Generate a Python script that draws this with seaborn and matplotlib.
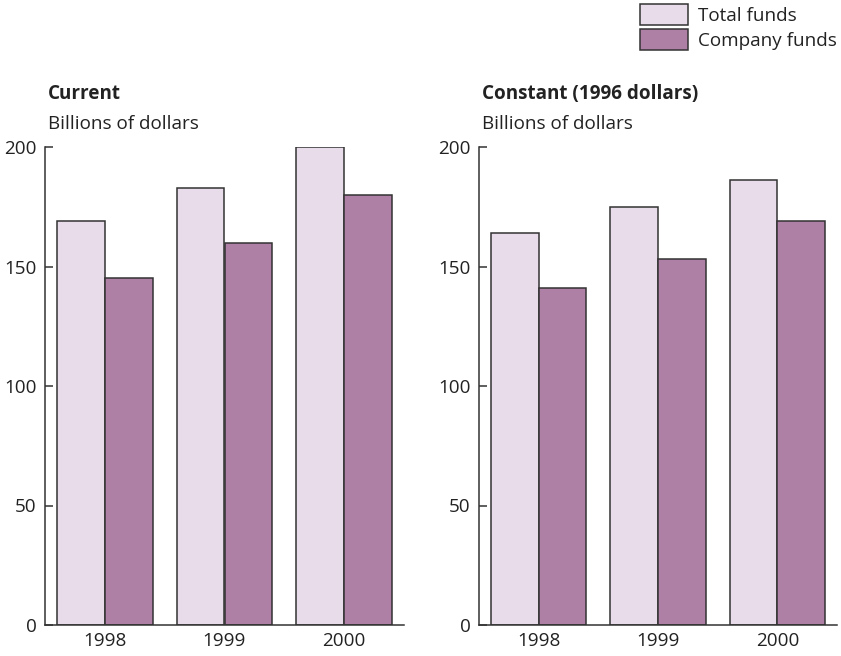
import numpy as np
import pandas as pd
import matplotlib
matplotlib.use("Agg")
import matplotlib.pyplot as plt
from matplotlib.patches import Patch
import seaborn as sns

# values (billions of dollars)
years = ["1998", "1999", "2000"]
series = ["Total funds", "Company funds"]
current_total = [169, 183, 200]
current_company = [145, 160, 180]
constant_total = [164, 175, 186]
constant_company = [141, 153, 169]

colors = ["#E8DCEA", "#AF80A5"]
edge = "#333333"
text_col = "#222222"
fs = 13.6

sns.set_style("ticks")
plt.rcParams["font.family"] = ["Open Sans", "DejaVu Sans"]
plt.rcParams["font.size"] = fs
plt.rcParams["text.color"] = text_col
plt.rcParams["axes.edgecolor"] = edge
plt.rcParams["xtick.color"] = edge
plt.rcParams["ytick.color"] = edge
plt.rcParams["xtick.labelcolor"] = text_col
plt.rcParams["ytick.labelcolor"] = text_col


def make_frame(total, company):
    return pd.DataFrame({
        "year": years * 2,
        "series": [series[0]] * 3 + [series[1]] * 3,
        "value": total + company,
    })


current = make_frame(current_total, current_company)
constant = make_frame(constant_total, constant_company)

W, H = 841, 656
fig = plt.figure(figsize=(W / 100, H / 100), dpi=100)
ax1 = fig.add_axes([45 / W, 31 / H, 359 / W, 478 / H])
ax2 = fig.add_axes([479 / W, 31 / H, 358 / W, 478 / H])

for ax, df in [(ax1, current), (ax2, constant)]:
    sns.barplot(data=df, x="year", y="value", hue="series", order=years,
                hue_order=series, palette=colors, saturation=1, width=0.8,
                edgecolor=edge, linewidth=1.1, ax=ax, legend=False)
    ax.set_xlim(-0.5, 2.5)
    ax.set_ylim(0, 200)
    ax.set_yticks([0, 50, 100, 150, 200])
    ax.set_xlabel("")
    ax.set_ylabel("")
    sns.despine(ax=ax)
    ax.spines["left"].set_linewidth(1.1)
    ax.spines["bottom"].set_linewidth(1.1)
    ax.tick_params(axis="y", direction="in", length=6, width=1.1, pad=6,
                   labelsize=fs)
    ax.tick_params(axis="x", length=0, pad=5, labelsize=fs)

fig.text(48 / W, 1 - 94 / H, "Current", fontweight="bold", fontsize=fs,
         va="center", ha="left")
fig.text(48 / W, 1 - 124 / H, "Billions of dollars", fontsize=fs,
         va="center", ha="left")
fig.text(482 / W, 1 - 94 / H, "Constant (1996 dollars)", fontweight="bold",
         fontsize=fs, va="center", ha="left")
fig.text(482 / W, 1 - 124 / H, "Billions of dollars", fontsize=fs,
         va="center", ha="left")

handles = [Patch(facecolor=c, edgecolor=edge, linewidth=1.1) for c in colors]
fig.legend(handles, series, loc="upper left",
           bbox_to_anchor=(636 / W, 1 - 0 / H), frameon=False,
           fontsize=fs, handlelength=2.55, handleheight=1.33,
           labelspacing=0.2, handletextpad=0.5, borderaxespad=0,
           borderpad=0.22)

fig.savefig("out.png", dpi=100)
